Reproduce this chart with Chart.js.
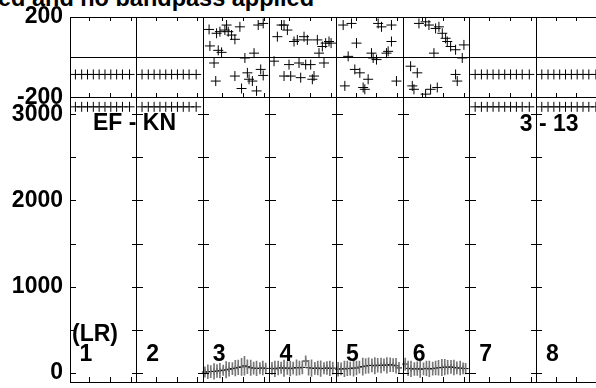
<!DOCTYPE html>
<html>
<head>
<meta charset="utf-8">
<script src="https://cdn.jsdelivr.net/npm/chart.js@4/dist/chart.umd.min.js"></script>
<style>
  html, body { margin: 0; padding: 0; background: #fff; overflow: hidden; }
  #wrap { position: relative; width: 596px; height: 388px; overflow: hidden; }
  #plot { position: absolute; left: 0; top: 0; }
  #title {
    position: absolute; left: -2px; top: -13px; white-space: nowrap;
    font: bold 23.5px 'Liberation Sans', Arial, sans-serif; line-height: 23px; color: #000;
  }
</style>
</head>
<body>
<div id="wrap">
  <div id="title">ed and no bandpass applied</div>
  <canvas id="plot" width="610" height="388"></canvas>
</div>
<script>
// IF panels, 16 channels each
const ifLabels = ['1', '2', '3', '4', '5', '6', '7', '8'];
const chansPerIF = 16;
const xTickChans = [4.6, 9.6, 14.6];
const phaseTicks = [-200, 0, 200];
const ampTicks = [0, 500, 1000, 1500, 2000, 2500, 3000];
const baselineLabel = 'EF - KN';
const stokesLabel = '(LR)';
const sourceLabel = '3 - 13';

// flagged IFs (1, 2, 7, 8) sit at a fixed phase / clipped amplitude
const flaggedIFs = [0, 1, 6, 7];
const flaggedChans = [1.3, 2.8, 4.2, 5.6, 7.0, 8.4, 9.8, 11.2, 12.6, 14.3];
const flaggedPhase = -86;
const flaggedAmp = 3085;

// phase (deg) vs channel, IF 3..6
const phCh3 = [1.4, 3.2, 4.0, 5.2, 5.6, 6.0, 6.8, 7.6, 8.8, 13.2, 14.4, 1.6, 3.6, 4.4, 10.0, 12.2, 2.6, 3.0, 7.6, 10.6, 11.0, 11.8, 9.2, 12.8, 13.8, 14.4];
const ph3   = [138, 119, 127, 135, 160, 127, 110, 89, 151, 160, 168, 56, 34, 24, -4, 20, -29, -119, -94, -78, -110, -119, -156, -168, -61, -91];
const phCh4 = [1.8, 2.8, 3.4, 4.2, 5.8, 6.6, 8.2, 9.0, 11.4, 12.6, 13.4, 14.2, 11.8, 14.7, 1.0, 4.6, 7.0, 8.6, 9.8, 13.0, 3.4, 5.0, 7.4, 10.6, 10.2];
const ph4   = [102, 160, 160, 135, 78, 86, 102, 86, 86, 53, 70, 78, 20, 70, -20, -37, -29, -37, -37, -29, -94, -94, -102, -94, -110];
const phCh5 = [1.6, 3.6, 10.0, 10.8, 13.2, 4.8, 13.2, 12.4, 2.8, 8.4, 8.8, 9.6, 12.0, 4.4, 5.6, 7.6, 2.0, 6.4, 6.8, 14.4];
const ph5   = [160, 168, 168, 151, 160, 70, 78, 29, 4, 20, -4, -12, 20, -61, -78, -110, -143, -151, -160, -119];
const phCh6 = [3.8, 5.4, 6.2, 7.8, 8.6, 9.4, 10.2, 10.6, 11.4, 12.6, 14.2, 14.6, 7.4, 1.8, 3.4, 2.2, 2.6, 5.4, 6.6, 8.2, 12.6, 13.0];
const ph6   = [168, 176, 160, 143, 151, 119, 94, 78, 53, 37, -4, 61, 20, -45, -78, -143, -160, -184, -160, -151, -86, -119];

// amplitude vs channel with error, IF 3..6
const amCh3 = [0.4, 1.1, 1.8, 2.6, 3.3, 4.0, 4.8, 5.5, 6.2, 7.0, 7.7, 8.4, 9.2, 9.9, 10.6, 11.4, 12.1, 12.8, 13.6, 14.3, 15.0];
const am3   = [12, 15, 18, 20, 24, 28, 34, 38, 45, 52, 58, 66, 72, 85, 74, 62, 58, 55, 57, 60, 55];
const er3   = [60, 80, 70, 90, 75, 85, 60, 95, 80, 70, 90, 85, 100, 110, 80, 90, 70, 85, 65, 80, 60];
const amCh4 = [0.5, 1.2, 2.0, 2.7, 3.4, 4.2, 4.9, 5.6, 6.4, 7.1, 7.8, 8.6, 9.3, 10.0, 10.8, 11.5, 12.2, 13.0, 13.7, 14.4, 15.1];
const am4   = [55, 50, 58, 62, 56, 60, 52, 58, 64, 60, 66, 140, 62, 58, 55, 60, 52, 56, 60, 54, 58];
const er4   = [70, 90, 80, 65, 95, 75, 85, 70, 90, 80, 75, 60, 85, 95, 70, 80, 90, 65, 75, 85, 70];
const amCh5 = [0.4, 1.1, 1.9, 2.6, 3.3, 4.1, 4.8, 5.5, 6.3, 7.0, 7.7, 8.5, 9.2, 9.9, 10.7, 11.4, 12.1, 12.9, 13.6, 14.3, 15.0];
const am5   = [45, 50, 48, 55, 52, 60, 58, 70, 75, 82, 88, 90, 85, 92, 88, 95, 90, 98, 92, 85, 60];
const er5   = [80, 70, 90, 85, 75, 95, 80, 70, 100, 85, 90, 75, 95, 80, 85, 70, 90, 80, 75, 85, 65];
const amCh6 = [0.5, 1.2, 1.9, 2.7, 3.4, 4.1, 4.9, 5.6, 6.3, 7.1, 7.8, 8.5, 9.3, 10.0, 10.7, 11.5, 12.2, 12.9, 13.7, 14.4, 15.0];
const am6   = [105, 55, 50, 48, 52, 45, 50, 55, 48, 52, 58, 62, 66, 70, 68, 72, 65, 60, 58, 55, 52];
const er6   = [70, 85, 90, 75, 80, 95, 70, 85, 90, 75, 80, 85, 95, 90, 80, 75, 85, 70, 80, 65, 60];

const FONT = "'Liberation Sans', Arial, sans-serif";
const ifStart = i => i * chansPerIF;

function crosses(ifIdx, ch, vals, axis, r) {
    return {
        type: 'scatter', yAxisID: axis,
        data: ch.map((c, k) => ({ x: ifStart(ifIdx) + c, y: vals[k] })),
        pointStyle: 'cross', pointRadius: r, pointHoverRadius: r,
        borderColor: '#000', borderWidth: 1
    };
}
function errBars(ifIdx, ch, vals, errs) {
    return {
        type: 'bar', yAxisID: 'amp', grouped: false,
        data: ch.map((c, k) => ({ x: ifStart(ifIdx) + c, y: [vals[k] - errs[k], vals[k] + errs[k]] })),
        backgroundColor: '#777', barThickness: 1, borderWidth: 0
    };
}

const datasets = [];
const phaseSets = [[2, phCh3, ph3], [3, phCh4, ph4], [4, phCh5, ph5], [5, phCh6, ph6]];
phaseSets.forEach(([i, c, v]) => datasets.push(crosses(i, c, v, 'phase', 5)));
const ampSets = [[2, amCh3, am3, er3], [3, amCh4, am4, er4], [4, amCh5, am5, er5], [5, amCh6, am6, er6]];
ampSets.forEach(([i, c, v, e]) => {
    datasets.push(errBars(i, c, v, e));
    datasets.push(crosses(i, c, v, 'amp', 3));
});
flaggedIFs.forEach(i => {
    datasets.push(crosses(i, flaggedChans, flaggedChans.map(() => flaggedPhase), 'phase', 5));
    datasets.push(crosses(i, flaggedChans, flaggedChans.map(() => flaggedAmp), 'amp', 5));
});

// small tick marks along panel edges + panel annotations
const frameTicks = {
    id: 'frameTicks',
    afterDraw(chart) {
        const { ctx, chartArea: a, scales } = chart;
        const x = scales.x, ph = scales.phase, am = scales.amp;
        ctx.save();
        ctx.strokeStyle = '#000';
        ctx.lineWidth = 1;
        ctx.beginPath();
        for (let i = 0; i <= ifLabels.length; i++) {
            const bx = Math.round(x.getPixelForValue(ifStart(i)));
            ampTicks.forEach(v => {
                const y = Math.round(am.getPixelForValue(v)) + 0.5;
                ctx.moveTo(Math.max(a.left, bx - 5), y);
                ctx.lineTo(Math.min(a.right, bx + 6), y);
            });
        }
        const yMid = Math.round(ph.getPixelForValue(-200));
        for (let i = 0; i < ifLabels.length; i++) {
            xTickChans.forEach(c => {
                const px = Math.round(x.getPixelForValue(ifStart(i) + c)) + 0.5;
                ctx.moveTo(px, a.top); ctx.lineTo(px, a.top + 4);
                ctx.moveTo(px, yMid); ctx.lineTo(px, yMid - 4);
                ctx.moveTo(px, a.bottom); ctx.lineTo(px, a.bottom - 5);
            });
        }
        ctx.stroke();

        ctx.fillStyle = '#000';
        ctx.font = 'bold 23px ' + FONT;
        ctx.textBaseline = 'alphabetic';
        ctx.textAlign = 'left';
        const y0 = am.getPixelForValue(0);
        ifLabels.forEach((lab, i) => {
            ctx.fillText(lab, x.getPixelForValue(ifStart(i)) + 9.5, y0 - 12);
        });
        const x0 = x.getPixelForValue(0);
        ctx.fillText(stokesLabel, x0 + 2, y0 - 32);
        const yTop = am.getPixelForValue(3000);
        ctx.fillText(baselineLabel, x0 + 23, yTop + 16);
        ctx.fillText(sourceLabel, x.getPixelForValue(ifStart(6)) + 50, yTop + 17);
        ctx.restore();
    }
};

const tickFont = { family: FONT, size: 23, weight: 'bold' };
const noPad = s => { s.paddingTop = 0; s.paddingBottom = 0; s.paddingLeft = 0; s.paddingRight = 0; };

new Chart(document.getElementById('plot'), {
    type: 'scatter',
    data: { datasets: datasets },
    options: {
        responsive: false,
        animation: false,
        events: [],
        layout: { padding: { top: 17, right: 7, bottom: 3, left: 0 } },
        plugins: { legend: { display: false }, tooltip: { enabled: false } },
        scales: {
            x: {
                type: 'linear', position: 'bottom', offset: false,
                min: 0, max: ifStart(ifLabels.length),
                afterBuildTicks: s => { s.ticks = ifLabels.concat(['']).map((_, i) => ({ value: ifStart(i) })); },
                afterFit: s => { s.height = 0; noPad(s); },
                ticks: { display: false },
                grid: { color: '#000', lineWidth: 1, drawTicks: false, offset: false },
                border: { color: '#000' }
            },
            amp: {
                type: 'linear', position: 'left', stack: 'v', stackWeight: 287,
                min: -103, max: 3195,
                afterBuildTicks: s => { s.ticks = ampTicks.map(v => ({ value: v })); },
                afterFit: s => { s.width = 70; noPad(s); },
                ticks: {
                    autoSkip: false, padding: 7, color: '#000', font: tickFont,
                    callback: v => (v % 1000 === 0 ? String(v) : '')
                },
                grid: { display: false, drawTicks: false },
                border: { color: '#000' }
            },
            phase: {
                type: 'linear', position: 'left', stack: 'v', stackWeight: 81,
                min: -200, max: 200,
                afterBuildTicks: s => { s.ticks = phaseTicks.map(v => ({ value: v })); },
                afterFit: s => { s.width = 70; noPad(s); },
                ticks: {
                    autoSkip: false, padding: 7, color: '#000', font: tickFont,
                    callback: v => (v === 0 ? '' : String(v))
                },
                grid: { color: '#000', lineWidth: 1, drawTicks: false },
                border: { color: '#000' }
            }
        }
    },
    plugins: [frameTicks]
});
</script>
</body>
</html>
